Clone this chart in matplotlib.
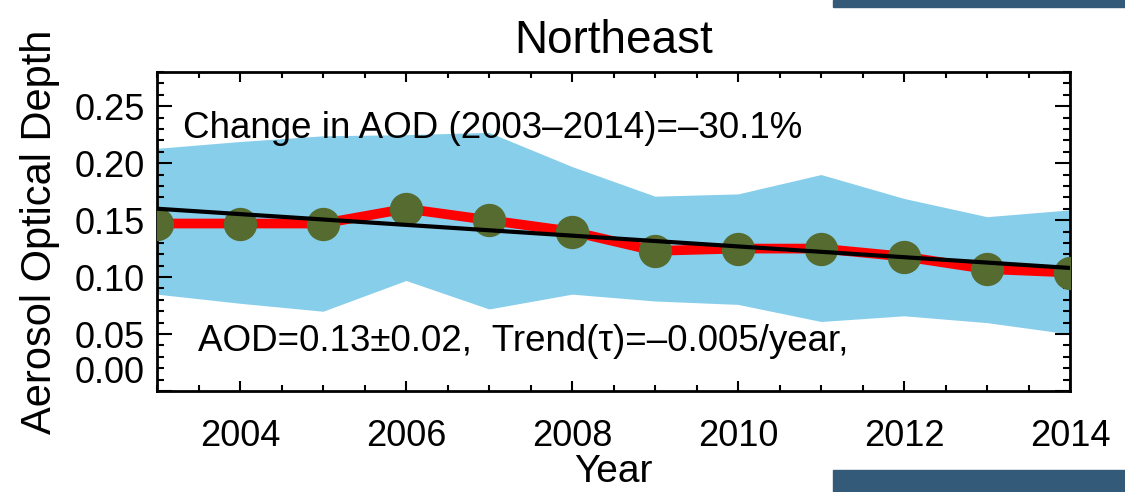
import matplotlib
matplotlib.use("Agg")
import matplotlib.pyplot as plt
from matplotlib.patches import Rectangle
from matplotlib.ticker import MultipleLocator

plt.rcParams["font.family"] = ["Liberation Sans", "DejaVu Sans"]

years = [2003, 2004, 2005, 2006, 2007, 2008, 2009, 2010, 2011, 2012, 2013, 2014]
aod_mean = [0.147, 0.147, 0.147, 0.160, 0.150, 0.140, 0.123, 0.125, 0.125, 0.118, 0.107, 0.104]
aod_upper = [0.213, 0.219, 0.224, 0.225, 0.227, 0.197, 0.171, 0.173, 0.190, 0.169, 0.153, 0.159]
aod_lower = [0.085, 0.077, 0.070, 0.097, 0.072, 0.085, 0.079, 0.076, 0.061, 0.066, 0.060, 0.050]
trend_ends = [0.160, 0.108]
trend_years = [2003, 2014]

title = "Northeast"
change_text = "Change in AOD (2003\u20132014)=\u201330.1%"
stats_text = "AOD=0.13\u00b10.02,  Trend(\u03c4)=\u20130.005/year,"

fig = plt.figure(figsize=(11.25, 4.92), dpi=100)
ax = fig.add_axes([157 / 1125, 1 - 391 / 492, 913 / 1125, 319 / 492])

ax.fill_between(years, aod_lower, aod_upper, color="#87ceeb", linewidth=0, zorder=1)
ax.plot(years, aod_mean, color="red", linewidth=7, zorder=2)
ax.plot(years, aod_mean, "o", color="#556b2f", markersize=23, zorder=3)
ax.plot(trend_years, trend_ends, color="black", linewidth=3, zorder=4)

ax.set_xlim(2003, 2014)
ax.set_ylim(0, 0.28)
ax.xaxis.set_minor_locator(MultipleLocator(0.5))
ax.yaxis.set_minor_locator(MultipleLocator(0.01))
ax.set_xticks([2004, 2006, 2008, 2010, 2012, 2014])
ax.set_yticks([0.0, 0.05, 0.10, 0.15, 0.20, 0.25])
ax.set_yticklabels(["0.00", "0.05", "0.10", "0.15", "0.20", "0.25"])
ax.tick_params(which="both", direction="in", top=True, right=True, width=1.5, labelsize=26)
ax.tick_params(which="major", axis="y", length=11, pad=9)
ax.tick_params(which="minor", axis="y", length=5)
ax.tick_params(which="major", axis="x", length=7, pad=20)
ax.tick_params(which="minor", axis="x", length=4)
ax.get_yticklabels()[0].set_verticalalignment("bottom")
for s in ax.spines.values():
    s.set_linewidth(2)

ax.set_title(title, fontsize=33, pad=14)
ax.set_xlabel("Year", fontsize=28, labelpad=0)
ax.set_ylabel("Aerosol Optical Depth", fontsize=30, labelpad=10)

ax.text(0.028, 0.824, change_text, transform=ax.transAxes, fontsize=26.5, va="center", ha="left", zorder=5)
ax.text(0.045, 0.154, stats_text, transform=ax.transAxes, fontsize=26.5, va="center", ha="left", zorder=5)

fig.patches.append(Rectangle((833 / 1125, 1 - 7 / 492), 292 / 1125, 7 / 492,
                             transform=fig.transFigure, color="#345a7a"))
fig.patches.append(Rectangle((833 / 1125, 0), 292 / 1125, 22 / 492,
                             transform=fig.transFigure, color="#345a7a"))

fig.savefig("out.png", dpi=100)
